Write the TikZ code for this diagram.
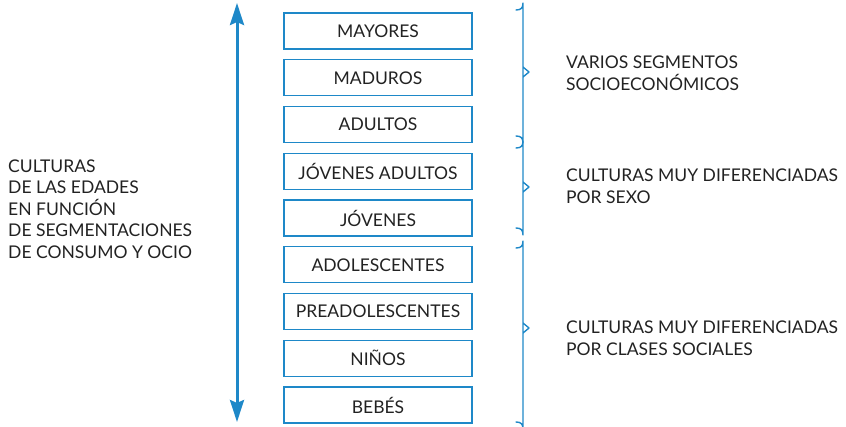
\documentclass[tikz,border=0pt]{standalone}
\usepackage{fontspec}
\setmainfont{Lato}
\usetikzlibrary{arrows.meta}
\definecolor{bblue}{HTML}{1E88C8}
\definecolor{tgray}{HTML}{222222}
\begin{document}
\begin{tikzpicture}[x=1pt,y=-1pt,
  agebox/.style={draw=bblue,line width=1.4pt,minimum width=188pt,minimum height=36pt,inner sep=0pt,
    text=tgray,font=\fontsize{17.5}{20}\selectfont},
  sidetext/.style={text=tgray,font=\fontsize{17.5}{21.6}\selectfont,align=left,inner sep=0pt},
  bracepath/.style={draw=bblue,line width=1.4pt,line cap=round,line join=round},
  bigarrow/.style={draw=bblue,line width=3pt,{Stealth[length=22pt,width=14pt,inset=3pt]}-{Stealth[length=22pt,width=14pt,inset=3pt]}}]
\useasboundingbox (0,0) rectangle (846,426);
\node[agebox] (b1) at (378,31) {MAYORES};
\node[agebox] (b2) at (378,77.75) {MADUROS};
\node[agebox] (b3) at (378,124.5) {ADULTOS};
\node[agebox] (b4) at (378,171.25) {JÓVENES ADULTOS};
\node[agebox] (b5) at (378,218) {JÓVENES};
\node[agebox] (b6) at (378,264.75) {ADOLESCENTES};
\node[agebox] (b7) at (378,311.5) {PREADOLESCENTES};
\node[agebox] (b8) at (378,358.25) {NIÑOS};
\node[agebox] (b9) at (378,405) {BEBÉS};
\coordinate (atop) at (237,3);
\coordinate (abot) at (237,422);
\draw[bigarrow] (abot) -- (atop);
\node[sidetext,anchor=west] (left) at (8,209) {CULTURAS\\DE LAS EDADES\\EN FUNCIÓN\\DE SEGMENTACIONES\\DE CONSUMO Y OCIO};
% braces
\coordinate (c1t) at (516,10); \coordinate (c1m) at (529,72); \coordinate (c1b) at (516,136);
\coordinate (c2t) at (516,148); \coordinate (c2m) at (529,187); \coordinate (c2b) at (516,228);
\coordinate (c3t) at (516,248); \coordinate (c3m) at (529,328); \coordinate (c3b) at (516,422);
\foreach \t/\m/\b in {c1t/c1m/c1b,c2t/c2m/c2b,c3t/c3m/c3b}{
  \draw[bracepath] (\t) .. controls ([xshift=5pt]\t) and ([xshift=7pt,yshift=2pt]\t) .. ([xshift=7pt,yshift=7pt]\t)
    -- ([xshift=-6pt,yshift=-5pt]\m) -- (\m) -- ([xshift=-6pt,yshift=5pt]\m)
    -- ([xshift=7pt,yshift=-7pt]\b) .. controls ([xshift=7pt,yshift=-2pt]\b) and ([xshift=5pt]\b) .. (\b);
}
\node[sidetext,anchor=west] (r1) at (566,73) {VARIOS SEGMENTOS\\SOCIOECONÓMICOS};
\node[sidetext,anchor=west] (r2) at (566,186.5) {CULTURAS MUY DIFERENCIADAS\\POR SEXO};
\node[sidetext,anchor=west] (r3) at (566,338.5) {CULTURAS MUY DIFERENCIADAS\\POR CLASES SOCIALES};
\end{tikzpicture}
\end{document}
